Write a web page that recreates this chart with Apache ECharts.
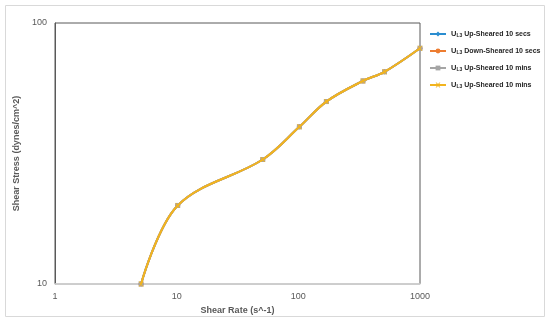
<!DOCTYPE html>
<html><head><meta charset="utf-8">
<script src="https://cdn.jsdelivr.net/npm/echarts@6/dist/echarts.min.js"></script>
<style>html,body{margin:0;padding:0;background:#fff}#c{width:550px;height:322px}</style>
</head><body><div id="c"></div>
<script>
var shearRate = [5.1, 10.2, 51, 102, 170, 340, 511, 1000];
var stressUp10s = [10, 20, 30, 40, 50, 60, 65, 80];
var stressDown10s = [10, 20, 30, 40, 50, 60, 65, 80];
var stressUp10m = [10, 20, 30, 40, 50, 60, 65, 80];
var stressUp10mB = [10, 20, 30, 40, 50, 60, 65, 80];
var xTicks = [1, 10, 100, 1000];
var yTicks = [10, 100];
var seriesKeys = ['s1', 's2', 's3', 's4'];
var seriesLabels = ['Up-Sheared 10 secs', 'Down-Sheared 10 secs', 'Up-Sheared 10 mins', 'Up-Sheared 10 mins'];
var seriesColors = ['#2a8dd0', '#ed7d31', '#a5a5a5', '#f2b41e'];
var FONT = '"Liberation Sans Narrow", "Liberation Sans", sans-serif';

function pts(ys){ return shearRate.map(function(x,i){ return [x, ys[i]]; }); }
var xPath = 'path://M0,0 L2,0 L5,3 L8,0 L10,0 L6,5 L10,10 L8,10 L5,7 L2,10 L0,10 L4,5 Z';
var symbols = ['diamond', 'circle', 'rect', xPath];
var datas = [stressUp10s, stressDown10s, stressUp10m, stressUp10mB];

var chart = echarts.init(document.getElementById('c'));
chart.setOption({
  animation: false,
  textStyle: {fontFamily: FONT},
  graphic: [{type:'rect', shape:{x:5.5, y:5.5, width:539, height:311}, style:{fill:'none', stroke:'#d9d9d9', lineWidth:1}, silent:true}],
  grid: {left:55, right:130, top:23, bottom:38, show:true, borderColor:'#595959', borderWidth:1, backgroundColor:'#fff'},
  xAxis: {
    type:'log', logBase:10, min:1, max:1000,
    name:'Shear Rate (s^-1)', nameLocation:'middle', nameGap:20,
    nameTextStyle:{color:'#595959', fontSize:9, fontWeight:'bold', fontFamily:FONT},
    axisLine:{show:true, lineStyle:{color:'#d9d9d9', width:1.5}},
    axisTick:{show:false}, splitLine:{show:false},
    axisLabel:{color:'#595959', fontSize:9, margin:8, fontFamily:FONT,
      formatter:function(v){ return xTicks.indexOf(Math.round(v))>=0 ? String(Math.round(v)) : ''; }}
  },
  yAxis: {
    type:'log', logBase:10, min:10, max:100,
    name:'Shear Stress (dynes/cm^2)', nameLocation:'middle', nameGap:27, nameRotate:90,
    nameTextStyle:{color:'#595959', fontSize:9, fontWeight:'bold', fontFamily:FONT},
    axisLine:{show:true, lineStyle:{color:'#595959'}},
    axisTick:{show:false}, splitLine:{show:false},
    axisLabel:{color:'#595959', fontSize:9, margin:8, fontFamily:FONT,
      formatter:function(v){ return yTicks.indexOf(Math.round(v))>=0 ? String(Math.round(v)) : ''; }}
  },
  legend: {
    orient:'vertical', left:424, top:25, itemGap:8.5, itemWidth:16, itemHeight:6,
    data: seriesKeys,
    formatter: function(name){ var i = seriesKeys.indexOf(name); return '{u|U}{s|L3}{t| ' + seriesLabels[i] + '}'; },
    textStyle: {
      color:'#262626', fontFamily:FONT,
      rich: {
        u:{fontSize:7.5, fontWeight:'bold', color:'#262626', fontFamily:FONT},
        s:{fontSize:5, fontWeight:'bold', color:'#262626', verticalAlign:'bottom', padding:[4,0,0,0], fontFamily:FONT},
        t:{fontSize:7, fontWeight:'bold', color:'#262626', fontFamily:FONT}
      }
    }
  },
  series: seriesKeys.map(function(k, i){
    return {
      name:k, type:'line', data:pts(datas[i]), smooth:0.35,
      symbol:symbols[i], symbolSize:5, showSymbol:true,
      itemStyle:{color:seriesColors[i]},
      lineStyle:{color:seriesColors[i], width:2},
      z: 2 + i
    };
  })
});
</script></body></html>
